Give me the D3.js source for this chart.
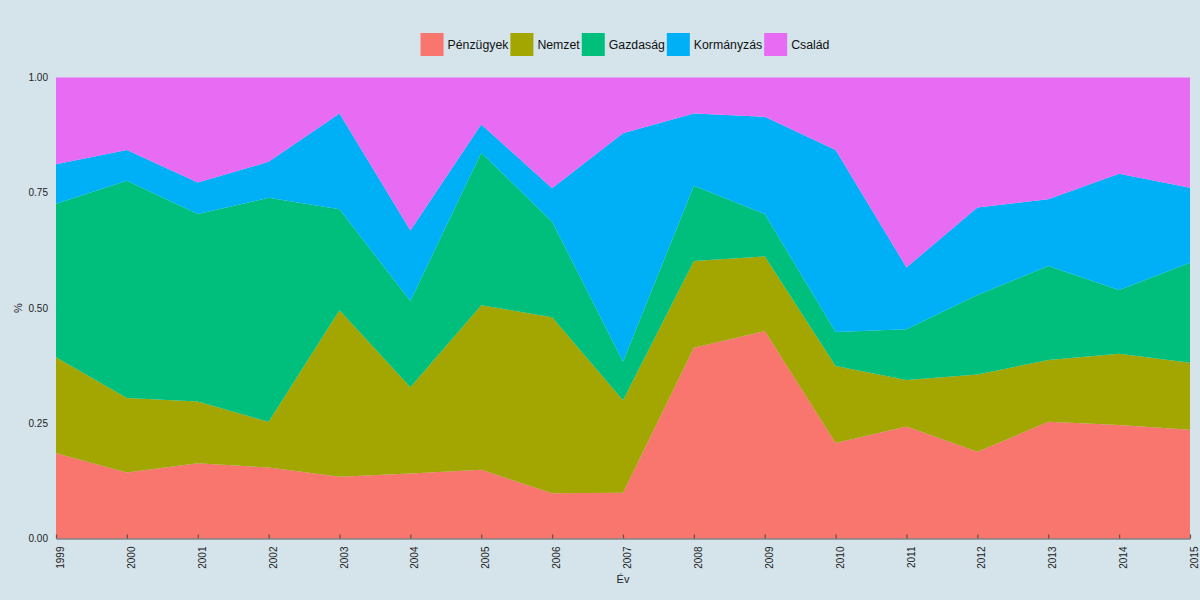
<!DOCTYPE html>
<html>
<head>
<meta charset="utf-8">
<script src="https://cdn.jsdelivr.net/npm/d3@7"></script>
<style>
  body { margin: 0; background: #d5e4eb; }
  svg { display: block; font-family: "Liberation Sans", Arial, sans-serif; }
</style>
</head>
<body>
<div id="chart"></div>
<script>
// Chart data (shares per year)
var years = [1999, 2000, 2001, 2002, 2003, 2004, 2005, 2006, 2007, 2008, 2009, 2010, 2011, 2012, 2013, 2014, 2015];
var seriesNames = ["Pénzügyek", "Nemzet", "Gazdaság", "Kormányzás", "Család"];
var penzugyek  = [0.185, 0.143, 0.163, 0.154, 0.134, 0.141, 0.149, 0.098, 0.099, 0.414, 0.450, 0.207, 0.243, 0.188, 0.253, 0.246, 0.236];
var nemzet     = [0.208, 0.162, 0.134, 0.099, 0.361, 0.187, 0.357, 0.382, 0.201, 0.188, 0.162, 0.167, 0.101, 0.168, 0.134, 0.155, 0.145];
var gazdasag   = [0.333, 0.471, 0.407, 0.486, 0.219, 0.187, 0.331, 0.207, 0.084, 0.163, 0.092, 0.074, 0.110, 0.172, 0.204, 0.138, 0.217];
var kormanyzas = [0.086, 0.067, 0.068, 0.078, 0.208, 0.153, 0.061, 0.073, 0.495, 0.157, 0.211, 0.395, 0.134, 0.190, 0.145, 0.252, 0.163];
var csalad     = [0.188, 0.157, 0.228, 0.183, 0.078, 0.332, 0.102, 0.240, 0.121, 0.078, 0.085, 0.157, 0.412, 0.282, 0.264, 0.209, 0.239];
var yTicks = [0, 0.25, 0.5, 0.75, 1];

var colors = ["#F8766D", "#A3A500", "#00BF7D", "#00B0F6", "#E76BF3"];

// Setting up width and height of chart
var svgWidth = 1200;
var svgHeight = 600;
var margin = { top: 77.5, right: 10, bottom: 61.5, left: 56 };
var width = svgWidth - margin.left - margin.right;
var height = svgHeight - margin.top - margin.bottom;

var svg = d3.select("#chart")
  .append("svg")
  .attr("width", svgWidth)
  .attr("height", svgHeight);

svg.append("rect")
  .attr("width", svgWidth)
  .attr("height", svgHeight)
  .attr("fill", "#d5e4eb");

var chartGroup = svg.append("g")
  .attr("transform", `translate(${margin.left}, ${margin.top})`);

// build a table the stack can use
var allSeries = [penzugyek, nemzet, gazdasag, kormanyzas, csalad];
var table = years.map(function(y, i) {
  var row = { year: y };
  seriesNames.forEach(function(name, k) { row[name] = allSeries[k][i]; });
  return row;
});

var stacked = d3.stack()
  .keys(seriesNames)
  .offset(d3.stackOffsetExpand)(table);

var xScale = d3.scaleLinear()
  .domain(d3.extent(years))
  .range([0, width]);

var yScale = d3.scaleLinear()
  .domain([0, 1])
  .range([height, 0]);

var area = d3.area()
  .x(d => xScale(d.data.year))
  .y0(d => yScale(d[0]))
  .y1(d => yScale(d[1]));

chartGroup.selectAll("path.layer")
  .data(stacked)
  .enter()
  .append("path")
  .attr("class", "layer")
  .attr("d", area)
  .attr("fill", (d, i) => colors[i]);

// y axis (labels only)
var leftAxis = d3.axisLeft(yScale)
  .tickValues(yTicks)
  .tickFormat(d3.format(".2f"))
  .tickSize(0)
  .tickPadding(8);

var yAxis = chartGroup.append("g").call(leftAxis);
yAxis.select(".domain").remove();
yAxis.selectAll("text")
  .attr("font-size", "10px")
  .attr("font-family", "Liberation Sans, Arial, sans-serif")
  .attr("fill", "#222");

// x axis with inward ticks
var bottomAxis = d3.axisBottom(xScale)
  .tickValues(years)
  .tickFormat(d3.format("d"))
  .tickSizeInner(-4)
  .tickSizeOuter(0);

var xAxis = chartGroup.append("g")
  .attr("transform", `translate(0, ${height})`)
  .call(bottomAxis);

xAxis.select(".domain").attr("stroke", "#555").attr("stroke-width", 1.2);
xAxis.selectAll(".tick line").attr("stroke", "#555").attr("stroke-width", 1.2);
xAxis.selectAll("text")
  .attr("font-size", "10px")
  .attr("font-family", "Liberation Sans, Arial, sans-serif")
  .attr("fill", "#222")
  .attr("text-anchor", "end")
  .attr("transform", "rotate(-90)")
  .attr("x", -8)
  .attr("y", 0)
  .attr("dy", "0.75em");

// axis titles
chartGroup.append("text")
  .attr("x", width / 2)
  .attr("y", height + 44)
  .attr("text-anchor", "middle")
  .attr("font-size", "11px")
  .attr("fill", "#222")
  .text("Év");

svg.append("text")
  .attr("transform", `translate(22, ${margin.top + height / 2}) rotate(-90)`)
  .attr("text-anchor", "middle")
  .attr("font-size", "11px")
  .attr("fill", "#222")
  .text("%");

// legend
var legend = svg.append("g");
var xPos = 0;
seriesNames.forEach(function(name, i) {
  var item = legend.append("g").attr("transform", `translate(${xPos}, 0)`);
  item.append("rect")
    .attr("x", 0)
    .attr("y", 33)
    .attr("width", 23)
    .attr("height", 23)
    .attr("fill", colors[i]);
  var t = item.append("text")
    .attr("x", 27)
    .attr("y", 49)
    .attr("font-size", "12.3px")
    .attr("fill", "#111")
    .text(name);
  xPos += 27 + t.node().getComputedTextLength() + 2;
});
var legendWidth = xPos - 2;
legend.attr("transform", `translate(${625 - legendWidth / 2}, 0)`);
</script>
</body>
</html>
